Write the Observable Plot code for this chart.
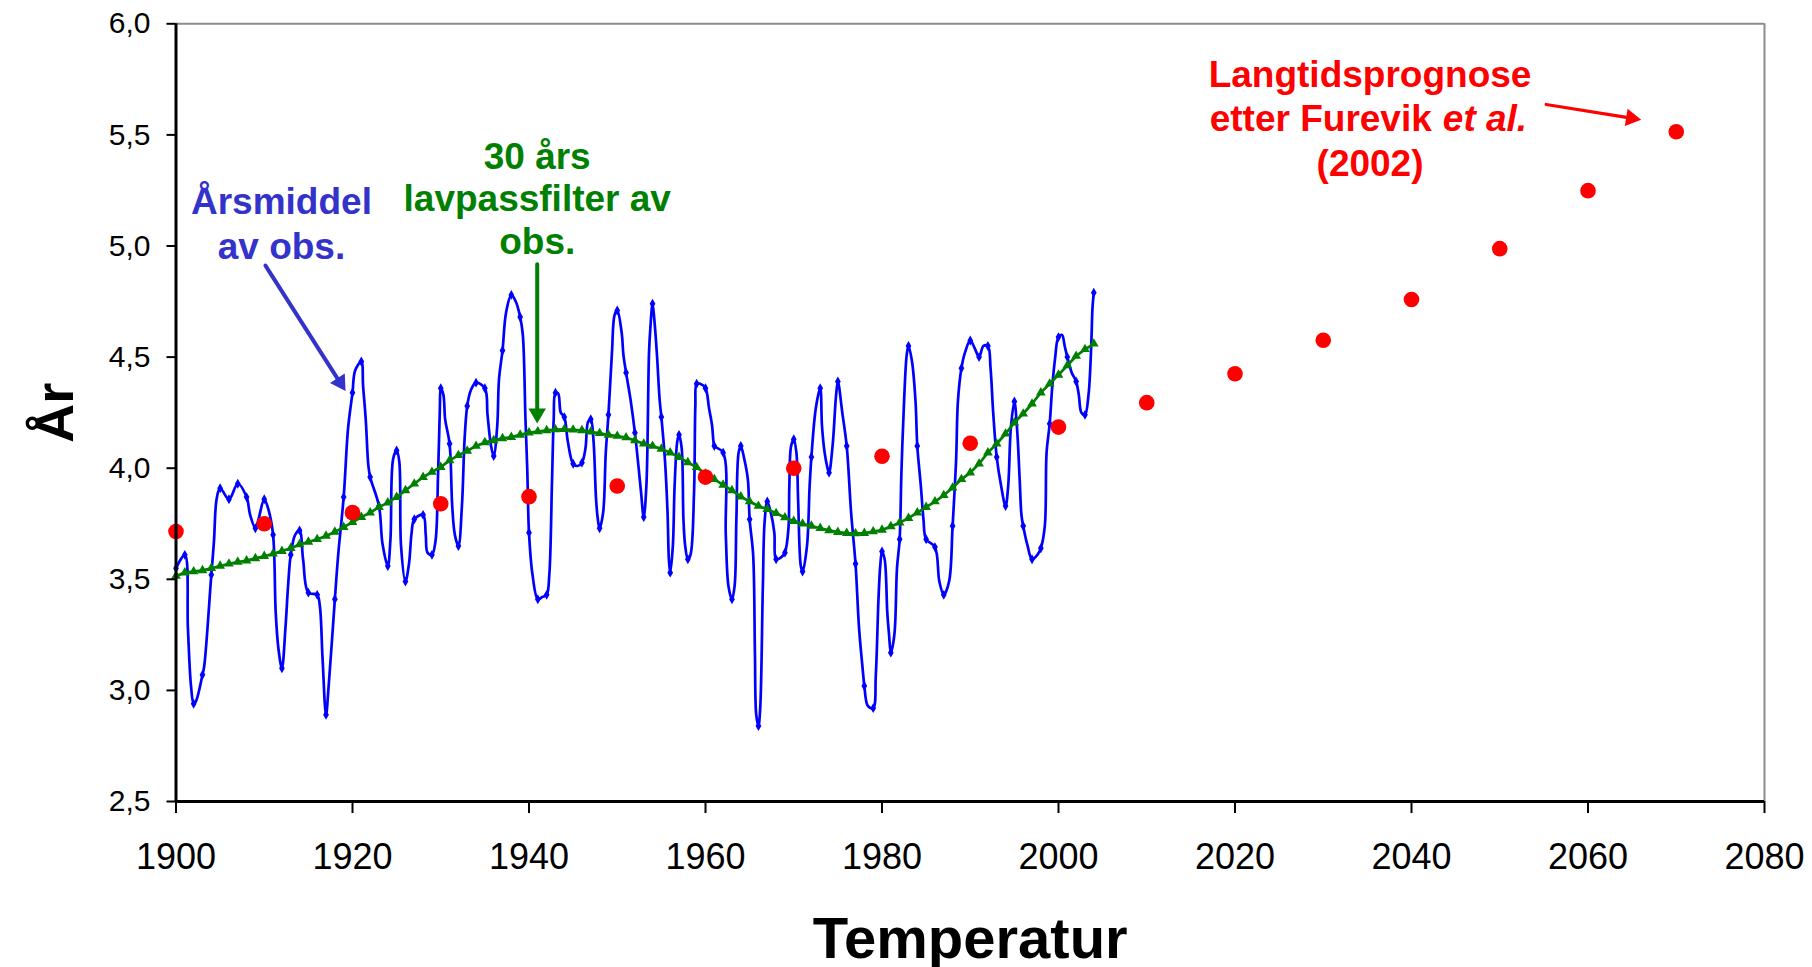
<!DOCTYPE html>
<html>
<head>
<meta charset="utf-8">
<script src="https://cdn.jsdelivr.net/npm/d3@7"></script>
<script src="https://cdn.jsdelivr.net/npm/@observablehq/plot@0.6"></script>
<style>
  html, body { margin: 0; padding: 0; background: #fff; }
  #chart svg { display: block; }
</style>
</head>
<body>
<div id="chart"></div>
<script>
// ---------- DATA ----------
// Annual mean of observations (blue, with diamond markers), 1900–2004
const obsYears = d3.range(1900, 2005);
const obsValues = [
  3.55, 3.61, 2.94, 3.07, 3.52, 3.91, 3.86, 3.93, 3.87, 3.73,
  3.86, 3.70, 3.10, 3.61, 3.72, 3.44, 3.43, 2.89, 3.41, 3.87,
  4.34, 4.48, 3.96, 3.83, 3.56, 4.08, 3.49, 3.77, 3.79, 3.61,
  4.36, 4.11, 3.65, 4.28, 4.385, 4.36, 4.055, 4.53, 4.78, 4.68,
  3.71, 3.41, 3.43, 4.34, 4.23, 4.02, 4.025, 4.22, 3.73, 4.24,
  4.71, 4.43, 4.16, 3.78, 4.74, 4.23, 3.53, 4.15, 3.59, 4.38,
  4.36, 4.10, 4.07, 3.41, 4.10, 3.77, 2.84, 3.85, 3.59, 3.62,
  4.13, 3.535, 4.05, 4.36, 3.98, 4.39, 4.10, 3.57, 3.02, 2.92,
  3.625, 3.17, 3.68, 4.55, 4.10, 3.68, 3.645, 3.43, 3.74, 4.45,
  4.575, 4.50, 4.55, 4.05, 3.83, 4.30, 3.74, 3.59, 3.64, 4.20,
  4.59, 4.50, 4.39, 4.24, 4.79
];
// Intermediate vertices of the blue curve between the annual markers
const bendYears = [
  1901.35, 1901.7, 1902.25, 1903.2, 1904.3, 1904.6, 1908.4, 1909.35, 1910.5, 1911.3,
  1911.6, 1912.4, 1912.7, 1913.5, 1914.4, 1916.3, 1916.6, 1917.3, 1918.4, 1919.5,
  1920.3, 1921.2, 1921.5, 1921.8, 1923.4, 1924.3, 1924.6, 1925.3, 1925.5, 1926.4,
  1926.7, 1928.3, 1928.5, 1929.4, 1929.7, 1929.9, 1930.3, 1930.5, 1931.3, 1931.6,
  1932.4, 1932.7, 1933.4, 1935.3, 1935.7, 1936.4, 1936.6, 1937.4, 1938.5, 1939.3,
  1939.6, 1939.8, 1940.4, 1941.5, 1942.3, 1942.6, 1942.8, 1943.3, 1943.6, 1944.4,
  1945.5, 1946.4, 1946.7, 1947.3, 1947.6, 1947.8, 1948.4, 1948.7, 1949.4, 1949.7,
  1950.5, 1950.7, 1951.5, 1952.4, 1952.7, 1953.3, 1953.6, 1953.75, 1954.2, 1954.5,
  1954.8, 1955.4, 1955.7, 1955.85, 1956.3, 1956.5, 1956.8, 1957.3, 1957.5, 1957.7,
  1958.3, 1958.7, 1958.85, 1959.4, 1960.4, 1960.75, 1960.9, 1962.3, 1962.6, 1963.3,
  1963.5, 1963.75, 1964.4, 1964.8, 1965.4, 1965.6, 1965.75, 1966.2, 1966.5, 1966.7,
  1967.4, 1967.8, 1968.6, 1969.4, 1969.5, 1969.7, 1970.3, 1970.5, 1970.8, 1971.5,
  1971.8, 1972.5, 1973.2, 1973.5, 1973.8, 1974.4, 1974.8, 1975.5, 1976.5, 1977.4,
  1977.8, 1978.4, 1979.3, 1979.6, 1979.8, 1980.3, 1980.6, 1980.8, 1981.4, 1981.7,
  1982.2, 1982.5, 1982.8, 1983.4, 1983.8, 1984.4, 1984.7, 1986.5, 1987.6, 1988.4,
  1988.6, 1989.4, 1990.5, 1991.5, 1992.3, 1992.6, 1993.5, 1994.3, 1994.6, 1995.3,
  1995.6, 1995.8, 1996.5, 1997.6, 1998.45, 1998.65, 1999.3, 1999.6, 2000.4, 2000.7,
  2001.5, 2002.3, 2002.6, 2003.4, 2003.6, 2003.75, 2003.85
];
const bendValues = [
  3.28, 3.02, 2.95, 3.11, 3.67, 3.86, 3.79, 3.77, 3.81, 3.35,
  3.19, 3.28, 3.47, 3.70, 3.59, 3.38, 3.15, 3.02, 3.62, 4.18,
  4.44, 4.37, 4.22, 4.01, 3.66, 3.68, 4.04, 4.03, 3.65, 3.57,
  3.71, 3.70, 3.62, 3.67, 3.98, 4.27, 4.33, 4.22, 3.83, 3.70,
  3.83, 4.13, 4.35, 4.24, 4.10, 4.19, 4.40, 4.70, 4.75, 4.60,
  4.22, 4.00, 3.52, 3.42, 3.52, 3.93, 4.22, 4.337, 4.25, 4.12,
  4.01, 4.09, 4.21, 4.13, 3.86, 3.77, 3.80, 4.07, 4.52, 4.69,
  4.61, 4.51, 4.31, 4.01, 3.89, 3.92, 4.52, 4.63, 4.67, 4.51,
  4.31, 4.04, 3.80, 3.59, 3.65, 3.92, 4.12, 4.09, 3.77, 3.65,
  3.61, 3.89, 4.28, 4.38, 4.27, 4.19, 4.12, 3.70, 3.47, 3.47,
  3.77, 4.07, 4.04, 3.95, 3.61, 3.17, 2.89, 2.92, 3.47, 3.76,
  3.80, 3.71, 3.60, 3.73, 3.92, 4.10, 4.07, 3.85, 3.56, 3.65,
  3.92, 4.27, 4.19, 4.07, 4.005, 4.10, 4.33, 4.25, 3.80, 3.28,
  3.10, 2.93, 3.07, 3.41, 3.56, 3.59, 3.35, 3.25, 3.25, 3.55,
  3.98, 4.30, 4.51, 4.48, 4.30, 3.92, 3.77, 3.49, 3.49, 4.04,
  4.30, 4.52, 4.54, 4.55, 4.45, 4.25, 3.92, 3.92, 4.18, 4.18,
  3.95, 3.79, 3.65, 3.61, 3.74, 4.07, 4.37, 4.49, 4.60, 4.55,
  4.43, 4.33, 4.25, 4.33, 4.45, 4.60, 4.72
];
// 30-year low-pass filter of observations (green), 1900–2004
const filterYears = d3.range(1900, 2005);
const filterValues = [
  3.515, 3.53, 3.535, 3.54, 3.55, 3.56, 3.57, 3.578, 3.584, 3.594,
  3.604, 3.615, 3.627, 3.64, 3.657, 3.668, 3.68, 3.695, 3.713, 3.735,
  3.757, 3.78, 3.80, 3.825, 3.845, 3.87, 3.90, 3.93, 3.96, 3.983,
  4.005, 4.035, 4.058, 4.078, 4.10, 4.116, 4.125, 4.134, 4.14, 4.15,
  4.16, 4.165, 4.17, 4.174, 4.175, 4.173, 4.17, 4.164, 4.157, 4.15,
  4.145, 4.138, 4.125, 4.11, 4.10, 4.087, 4.07, 4.05, 4.026, 4.004,
  3.975, 3.95, 3.925, 3.90, 3.872, 3.85, 3.83, 3.815, 3.797, 3.778,
  3.762, 3.75, 3.74, 3.73, 3.72, 3.712, 3.708, 3.706, 3.708, 3.715,
  3.722, 3.738, 3.755, 3.775, 3.80, 3.825, 3.85, 3.878, 3.912, 3.95,
  3.98, 4.02, 4.07, 4.11, 4.155, 4.205, 4.245, 4.29, 4.34, 4.38,
  4.42, 4.462, 4.505, 4.535, 4.56
];
// Long-term forecast after Furevik et al. (2002) (red), every 10 years
const progYears = [1900, 1910, 1920, 1930, 1940, 1950, 1960, 1970, 1980, 1990,
                   2000, 2010, 2020, 2030, 2040, 2050, 2060, 2070];
const progValues = [3.715, 3.75, 3.80, 3.84, 3.872, 3.92, 3.96, 4.00, 4.054, 4.112,
                    4.185, 4.295, 4.425, 4.576, 4.759, 4.988, 5.249, 5.514];
// Tick values
const xTicks = [1900, 1920, 1940, 1960, 1980, 2000, 2020, 2040, 2060, 2080];
const yTicks = [2.5, 3.0, 3.5, 4.0, 4.5, 5.0, 5.5, 6.0];

// ---------- TABLES ----------
const annualObs = obsYears.map((year, i) => ({year, value: obsValues[i]}));
const bends = bendYears.map((year, i) => ({year, value: bendValues[i]}));
const blueCurve = [...annualObs, ...bends].sort((a, b) => a.year - b.year);
const filterData = filterYears.map((year, i) => ({year, value: filterValues[i]}));
const progData = progYears.map((year, i) => ({year, value: progValues[i]}));

// ---------- ANNOTATIONS (positions in data units) ----------
const BLUE_TXT = "#3333cc", GREEN = "#008000", RED = "#ff0000";
const textNotes = [
  {text: "Årsmiddel\nav obs.", x: 1911.95, y: 4.942, fill: BLUE_TXT, lh: 1.22, anchor: "middle", italic: false},
  {text: "30 års\nlavpassfilter av\nobs.", x: 1940.93, y: 4.965, fill: GREEN, lh: 1.145, anchor: "middle", italic: false},
  {text: "Langtidsprognose", x: 2035.3, y: 5.715, fill: RED, lh: 1.2, anchor: "middle", italic: false},
  {text: "etter Furevik", x: 2042.3, y: 5.517, fill: RED, lh: 1.2, anchor: "end", italic: false},
  {text: "et al.", x: 2043.55, y: 5.517, fill: RED, lh: 1.2, anchor: "start", italic: true},
  {text: "(2002)", x: 2035.3, y: 5.317, fill: RED, lh: 1.2, anchor: "middle", italic: false}
];
const arrowNotes = [
  {x1: 1910.14, y1: 4.912, x2: 1919.21, y2: 4.347, color: BLUE_TXT, rot: 147.5, w: 4},
  {x1: 1940.93, y1: 4.918, x2: 1940.93, y2: 4.201, color: GREEN, rot: 180, w: 4},
  {x1: 2055.26, y1: 5.637, x2: 2066.03, y2: 5.568, color: RED, rot: 99, w: 3.2}
];

const fmtY = d => d.toFixed(1).replace(".", ",");
const FONT = "'Liberation Sans', Arial, Helvetica, sans-serif";

const noteMarks = textNotes.map(n => Plot.text([n], {
  x: "x", y: "y", text: "text",
  fill: n.fill, fontSize: 37, fontWeight: "bold",
  fontStyle: n.italic ? "italic" : "normal",
  textAnchor: n.anchor, lineAnchor: "bottom", lineHeight: n.lh
}));

const headR = 6.5;
const headOff = headR * Math.sqrt(Math.PI / (Math.sqrt(3) * 3)) * 2; // centroid -> apex distance
const arrowMarks = arrowNotes.flatMap(a => {
  const t = a.rot * Math.PI / 180;
  return [
    Plot.arrow([a], {x1: "x1", y1: "y1", x2: "x2", y2: "y2", stroke: a.color,
      strokeWidth: a.w, headLength: 0, insetEnd: headOff}),
    Plot.dot([a], {x: "x2", y: "y2", symbol: "triangle", r: headR, fill: a.color,
      stroke: "none", rotate: a.rot,
      dx: -headOff * Math.sin(t), dy: headOff * Math.cos(t)})
  ];
});

const chart = Plot.plot({
  width: 1812,
  height: 967,
  marginLeft: 175.5,
  marginRight: 48,
  marginTop: 23.3,
  marginBottom: 166,
  style: {fontFamily: FONT, background: "#fff", color: "#000", overflow: "visible"},
  x: {domain: [1900, 2080], label: null},
  y: {domain: [2.5, 6.0], label: null},
  marks: [
    Plot.ruleY([6.0], {stroke: "#8c8c8c", strokeWidth: 2}),
    Plot.ruleX([2080], {stroke: "#8c8c8c", strokeWidth: 2}),
    Plot.line(blueCurve, {x: "year", y: "value", stroke: "#0000ff", strokeWidth: 2.7, curve: "catmull-rom"}),
    Plot.dot(annualObs, {x: "year", y: "value", symbol: "diamond", r: 3, fill: "#0000ff"}),
    Plot.line(filterData, {x: "year", y: "value", stroke: GREEN, strokeWidth: 2.7}),
    Plot.dot(filterData, {x: "year", y: "value", symbol: "triangle", r: 3.6, fill: GREEN}),
    Plot.dot(progData, {x: "year", y: "value", r: 7.8, fill: RED}),
    Plot.axisX({ticks: xTicks, tickSize: 12, tickPadding: 30, fontSize: 36,
      tickFormat: d => String(d), strokeWidth: 2, label: null}),
    Plot.axisY({ticks: yTicks, tickSize: 9, tickPadding: 16.5, fontSize: 30,
      tickFormat: fmtY, strokeWidth: 2, label: null}),
    Plot.ruleY([2.5], {stroke: "#000", strokeWidth: 3}),
    Plot.ruleX([1900], {stroke: "#000", strokeWidth: 3}),
    ...noteMarks,
    ...arrowMarks,
    Plot.text(["År"], {frameAnchor: "left", rotate: -90, dx: -103.5, fontSize: 54,
      fontWeight: "bold", lineAnchor: "bottom", textAnchor: "middle", fill: "#000"}),
    Plot.text(["Temperatur"], {frameAnchor: "bottom", dy: 156, fontSize: 58,
      fontWeight: "bold", lineAnchor: "bottom", textAnchor: "middle", fill: "#000"})
  ]
});

document.getElementById("chart").appendChild(chart);
</script>
</body>
</html>
